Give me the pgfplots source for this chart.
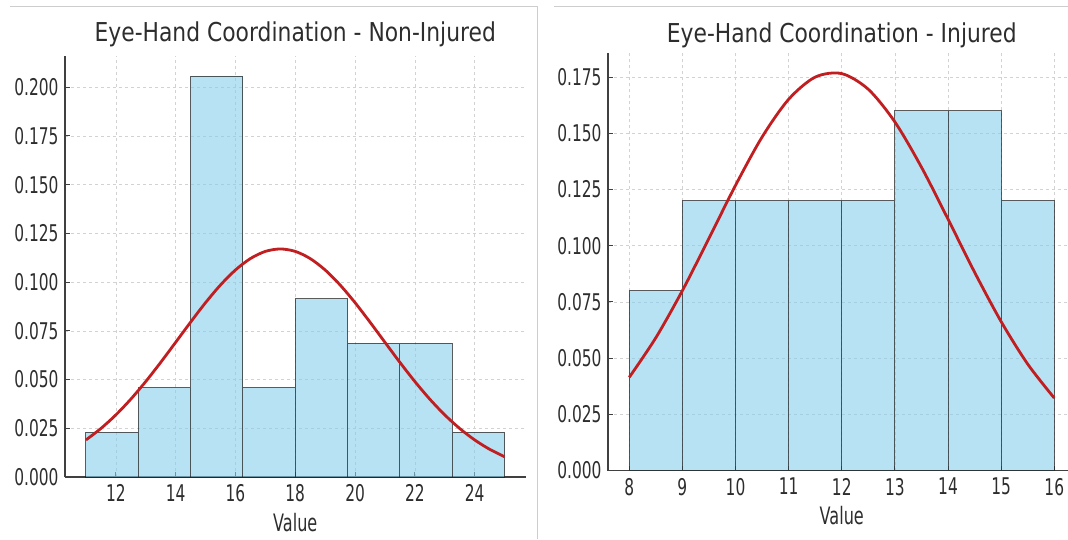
\documentclass[border=0pt]{standalone}
\usepackage{fontspec}
\setmainfont{DejaVu Sans}
\newfontfamily\tickfont[FakeStretch=0.67]{DejaVu Sans}
\newfontfamily\titlefont[FakeStretch=0.84]{DejaVu Sans}
\usepackage{pgfplots}
\pgfplotsset{compat=1.18}

\definecolor{barfill}{RGB}{135,206,235}
\definecolor{curvered}{RGB}{192,30,32}
\definecolor{txt}{RGB}{45,45,45}
\definecolor{framegray}{RGB}{205,205,205}

\pgfplotsset{histo/.style={
    scale only axis,
    axis x line*=bottom, axis y line*=left,
    axis line style={black!75, line width=1.2pt},
    tick align=inside, major tick length=5pt,
    tick style={black!75, line width=1pt},
    grid=major, grid style={dashed, gray!35, line width=0.6pt},
    tick label style={font=\tickfont\fontsize{23}{26}\selectfont, text=txt},
    yticklabel style={xshift=-3pt},
    xticklabel style={yshift=-4pt},
    label style={font=\tickfont\fontsize{24}{27}\selectfont, text=txt},
    xlabel style={yshift=-4pt},
    title style={font=\titlefont\fontsize{26}{29}\selectfont, text=txt, anchor=base, at={(0.5,1)}},
    xlabel={Value},
    scaled y ticks=false,
    yticklabel style={/pgf/number format/.cd, fixed, fixed zerofill, precision=3},
    /pgf/number format/assume math mode=true,
    ymin=0,
  },
  bars/.style={ybar interval, fill=barfill, fill opacity=0.6, draw=black!90, draw opacity=0.7, line width=0.9pt},
  curve/.style={curvered, line width=2.8pt, smooth},
}

\begin{document}
\begin{tikzpicture}
\useasboundingbox (0,0) rectangle (1068pt,539pt);
\clip (0,0) rectangle (1068pt,539pt);

% panel frames
\draw[framegray, line width=0.8pt] (10pt,533pt) -- (537pt,533pt) -- (537pt,0pt);
\draw[framegray, line width=0.8pt] (554pt,533pt) -- (1068pt,533pt);

\begin{axis}[histo,
    at={(65pt,62pt)}, anchor=south west,
    width=460.5pt, height=421pt,
    title={Eye-Hand Coordination - Non-Injured},
    title style={yshift=9pt},
    xmin=10.3, xmax=25.7, ymax=0.216,
    xtick={12,14,16,18,20,22,24},
    ytick={0,0.025,0.05,0.075,0.1,0.125,0.15,0.175,0.2},
  ]
  \addplot[bars] coordinates {
    (11,0.02286) (12.75,0.04571) (14.5,0.20571) (16.25,0.04571)
    (18,0.09143) (19.75,0.06857) (21.5,0.06857) (23.25,0.02286) (25,0.02286)
  };
  \addplot[curve] coordinates {
    (11,0.01902) (11.5,0.02489) (12,0.03186) (12.5,0.03993) (13,0.04899)
    (13.5,0.05881) (14,0.06910) (14.5,0.07945) (15,0.08944) (15.5,0.09852)
    (16,0.10621) (16.5,0.11207) (17,0.11575) (17.5,0.11700) (18,0.11575)
    (18.5,0.11207) (19,0.10621) (19.5,0.09852) (20,0.08944) (20.5,0.07945)
    (21,0.06910) (21.5,0.05881) (22,0.04899) (22.5,0.03993) (23,0.03186)
    (23.5,0.02489) (24,0.01902) (24.5,0.01423) (25,0.01041)
  };
\end{axis}

\begin{axis}[histo,
    at={(608pt,68.5pt)}, anchor=south west,
    width=467.5pt, height=417pt,
    title={Eye-Hand Coordination - Injured},
    title style={yshift=5pt},
    xmin=7.6, xmax=16.4, ymax=0.1855,
    xtick={8,9,10,11,12,13,14,15,16},
    ytick={0,0.025,0.05,0.075,0.1,0.125,0.15,0.175},
  ]
  \addplot[bars] coordinates {
    (8,0.08) (9,0.12) (10,0.12) (11,0.12) (12,0.12)
    (13,0.16) (14,0.16) (15,0.12) (16,0.12)
  };
  \addplot[curve] coordinates {
    (8,0.04145) (8.5,0.05905) (9,0.08002) (9.5,0.10326) (10,0.12684)
    (10.5,0.14833) (11,0.16512) (11.5,0.17500) (12,0.17655) (12.5,0.16957)
    (13,0.15505) (13.5,0.13494) (14,0.11183) (14.5,0.08822) (15,0.06625)
    (15.5,0.04735) (16,0.03223)
  };
\end{axis}
\end{tikzpicture}
\end{document}
